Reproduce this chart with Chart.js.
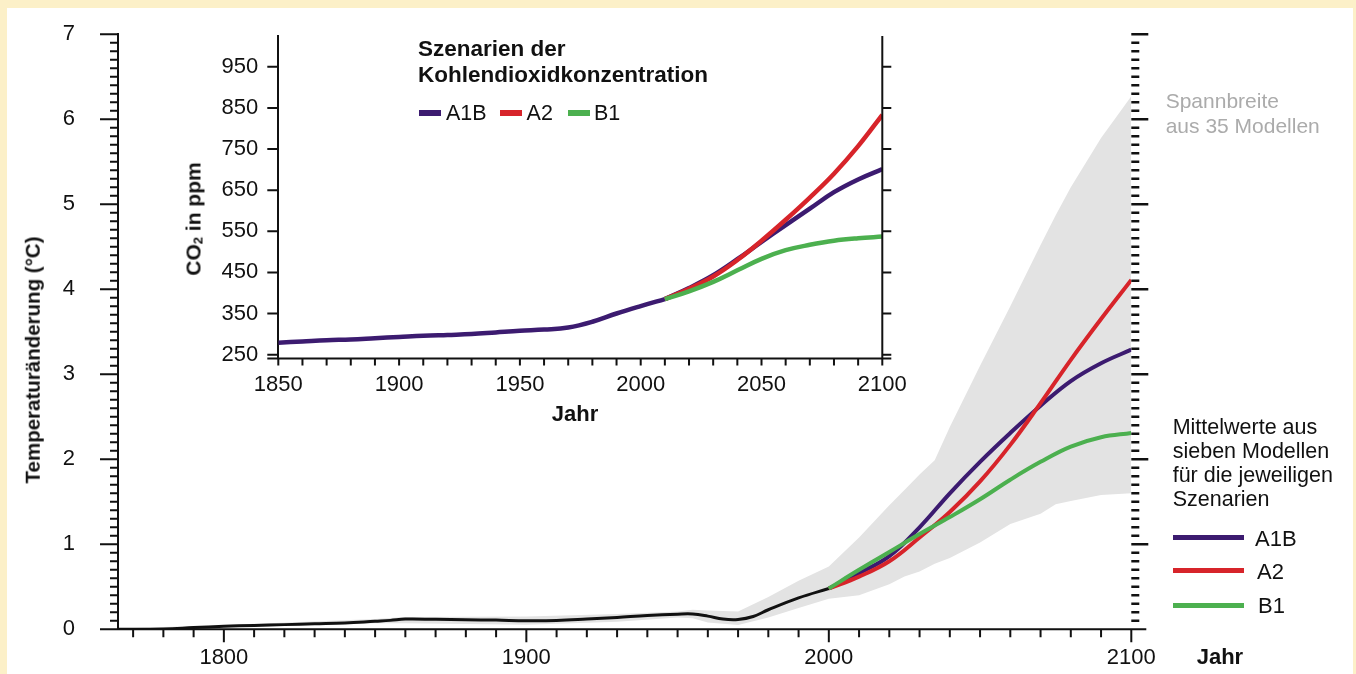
<!DOCTYPE html>
<html>
<head>
<meta charset="utf-8">
<script src="https://cdn.jsdelivr.net/npm/chart.js@4.4.1/dist/chart.umd.min.js"></script>
<style>
html, body { margin: 0; padding: 0; }
body {
  width: 1356px; height: 674px; overflow: hidden; position: relative;
  background: #fcf0c8;
  font-family: "Liberation Sans", Arial, Helvetica, sans-serif; color: #111;
}
#panel { position: absolute; left: 7px; top: 8px; width: 1346px; height: 666px; background: #fff; }
#main { position: absolute; left: 0; top: 0; }
#inset { position: absolute; left: 170px; top: 20px; }
.t { position: absolute; white-space: nowrap; line-height: 1; }
.b { font-weight: bold; }
.rot { transform: translate(-50%, -50%) rotate(-90deg); }
.ctr { transform: translate(-50%, -50%); }
.sw { position: absolute; }
sub { font-size: 0.62em; vertical-align: -0.12em; line-height: 0; }
</style>
</head>
<body>
<div id="panel"></div>
<canvas id="main" width="1356" height="674"></canvas>
<canvas id="inset" width="740" height="420"></canvas>

<div class="t b rot" style="left:33px; top:360px; font-size:20.5px;">Temperaturänderung (°C)</div>
<div class="t b rot" style="left:193px; top:219px; font-size:21px;">CO<sub>2</sub> in ppm</div>
<div class="t b ctr" style="left:575px; top:414px; font-size:22px;">Jahr</div>
<div class="t b" style="left:418px; top:35.75px; font-size:22.5px; line-height:26.5px;">Szenarien der<br>Kohlendioxidkonzentration</div>

<div class="sw" style="left:419px; top:110.3px; width:22px; height:6px; background:#3c1b70;"></div>
<div class="t" style="left:446px; top:102.5px; font-size:21.5px;">A1B</div>
<div class="sw" style="left:500px; top:110.3px; width:22px; height:6px; background:#d7242a;"></div>
<div class="t" style="left:526.6px; top:102.5px; font-size:21.5px;">A2</div>
<div class="sw" style="left:567.8px; top:110.3px; width:22px; height:6px; background:#4cb04f;"></div>
<div class="t" style="left:594px; top:102.5px; font-size:21.5px;">B1</div>

<div class="t" style="left:1165.7px; top:87.5px; font-size:21px; line-height:25px; color:#ababab;">Spannbreite<br>aus 35 Modellen</div>
<div class="t" style="left:1172.7px; top:414.6px; font-size:21.5px; line-height:24.2px;">Mittelwerte aus<br>sieben Modellen<br>für die jeweiligen<br>Szenarien</div>

<div class="sw" style="left:1172.7px; top:535.2px; width:71.6px; height:5px; background:#3c1b70;"></div>
<div class="t" style="left:1255px; top:527.8px; font-size:22px;">A1B</div>
<div class="sw" style="left:1172.7px; top:568.2px; width:71.6px; height:5px; background:#d7242a;"></div>
<div class="t" style="left:1257px; top:560.7px; font-size:22px;">A2</div>
<div class="sw" style="left:1172.7px; top:602.5px; width:71.6px; height:5px; background:#4cb04f;"></div>
<div class="t" style="left:1258px; top:595px; font-size:22px;">B1</div>

<div class="t b" style="left:1196.7px; top:645.7px; font-size:22px;">Jahr</div>

<script>
// Temperaturänderung (°C), Hauptdiagramm
const histYears = [1765, 1780, 1790, 1800, 1810, 1820, 1830, 1840, 1850, 1855, 1860, 1870, 1880, 1890, 1900, 1910, 1920, 1930, 1940, 1950, 1955, 1960, 1965, 1970, 1975, 1980, 1990, 2000];
const histTemp = [0, 0.005, 0.02, 0.035, 0.045, 0.055, 0.065, 0.075, 0.095, 0.105, 0.12, 0.117, 0.113, 0.108, 0.10, 0.103, 0.12, 0.14, 0.163, 0.178, 0.18, 0.155, 0.12, 0.115, 0.15, 0.23, 0.37, 0.48];

const scenYears = [2000, 2010, 2020, 2030, 2040, 2050, 2060, 2070, 2080, 2090, 2100];
const a1bTemp = [0.48, 0.66, 0.86, 1.20, 1.60, 1.97, 2.31, 2.63, 2.92, 3.13, 3.29];
const a2Temp = [0.48, 0.62, 0.80, 1.08, 1.38, 1.74, 2.17, 2.66, 3.17, 3.65, 4.11];
const b1Temp = [0.48, 0.70, 0.91, 1.12, 1.32, 1.53, 1.76, 1.97, 2.15, 2.26, 2.31];

// Spannbreite aus 35 Modellen
const bandYears = [1765, 1800, 1850, 1860, 1900, 1930, 1950, 1955, 1960, 1970, 1980, 1990, 2000, 2010, 2020, 2025, 2030, 2035, 2040, 2050, 2060, 2070, 2075, 2080, 2090, 2100];
const bandHigh = [0.01, 0.05, 0.12, 0.145, 0.15, 0.18, 0.21, 0.23, 0.22, 0.21, 0.38, 0.57, 0.74, 1.08, 1.46, 1.64, 1.82, 1.99, 2.38, 3.10, 3.80, 4.52, 4.87, 5.20, 5.78, 6.27];
const bandLow = [0, 0.02, 0.07, 0.07, 0.055, 0.09, 0.14, 0.13, 0.08, 0.05, 0.14, 0.25, 0.36, 0.40, 0.53, 0.62, 0.68, 0.77, 0.84, 1.02, 1.24, 1.36, 1.47, 1.51, 1.58, 1.60];

const tempTicks = [0, 1, 2, 3, 4, 5, 6, 7];
const yearTicks = [1800, 1900, 2000, 2100];

// CO2 in ppm, Nebendiagramm
const co2HistYears = [1850, 1860, 1870, 1880, 1890, 1900, 1910, 1920, 1930, 1940, 1950, 1960, 1970, 1980, 1990, 2000, 2010];
const co2Hist = [279, 282, 285, 287, 290, 293, 296, 298, 300, 304, 308, 311, 316, 330, 350, 368, 385];
const co2ScenYears = [2010, 2020, 2030, 2040, 2050, 2060, 2070, 2080, 2090, 2100];
const co2A1B = [385, 412, 443, 482, 524, 565, 605, 645, 676, 701];
const co2A2 = [385, 410, 440, 480, 527, 578, 632, 690, 757, 833];
const co2B1 = [385, 404, 427, 455, 483, 504, 517, 527, 533, 537];

const co2Ticks = [250, 350, 450, 550, 650, 750, 850, 950];
const insetYearTicks = [1850, 1900, 1950, 2000, 2050, 2100];

const C_A1B = '#3c1b70', C_A2 = '#d7242a', C_B1 = '#4cb04f', C_BAND = '#e3e3e3', C_INK = '#111';
const FONT = '"Liberation Sans", Arial, Helvetica, sans-serif';

const pts = (xs, ys) => xs.map((x, i) => ({x: x, y: ys[i]}));
const line = (label, data, color, width, order) => ({
  label: label, data: data, borderColor: color, borderWidth: width,
  pointRadius: 0, fill: false, tension: 0.4, order: order
});

const mainAxes = {
  id: 'mainAxes',
  afterDraw(chart) {
    const {ctx, chartArea, scales: {x, y}} = chart;
    const y0 = y.getPixelForValue(0);
    const xr = x.getPixelForValue(2100);
    ctx.save();
    ctx.strokeStyle = C_INK;
    ctx.lineWidth = 2;
    ctx.beginPath();
    ctx.moveTo(chartArea.left - 18, y0);
    ctx.lineTo(xr + 15, y0);
    for (let yr = 1770; yr <= 2100; yr += 10) {
      const px = x.getPixelForValue(yr);
      ctx.moveTo(px, y0);
      ctx.lineTo(px, y0 + (yr % 100 === 0 ? 13 : 8));
    }
    for (let i = 1; i <= 70; i++) {
      const py = y.getPixelForValue(i / 10);
      ctx.moveTo(chartArea.left, py);
      ctx.lineTo(chartArea.left - (i % 10 === 0 ? 18 : 8), py);
    }
    ctx.stroke();
    ctx.lineWidth = 2.6;
    ctx.beginPath();
    for (let i = 1; i <= 70; i++) {
      const py = y.getPixelForValue(i / 10);
      ctx.moveTo(xr, py);
      ctx.lineTo(xr + (i % 10 === 0 ? 17 : 8), py);
    }
    ctx.stroke();
    ctx.restore();
  }
};

const insetAxes = {
  id: 'insetAxes',
  afterDraw(chart) {
    const {ctx, chartArea: a, scales: {x, y}} = chart;
    ctx.save();
    ctx.strokeStyle = C_INK;
    ctx.lineWidth = 2;
    ctx.beginPath();
    ctx.moveTo(a.left - 11, a.bottom);
    ctx.lineTo(a.right + 9, a.bottom);
    ctx.moveTo(a.right, a.top);
    ctx.lineTo(a.right, a.bottom);
    for (let yr = 1850; yr <= 2100; yr += 10) {
      const px = x.getPixelForValue(yr);
      ctx.moveTo(px, a.bottom);
      ctx.lineTo(px, a.bottom + 7);
    }
    co2Ticks.forEach(v => {
      const py = y.getPixelForValue(v);
      ctx.moveTo(a.left - 11, py);
      ctx.lineTo(a.left, py);
      ctx.moveTo(a.right, py);
      ctx.lineTo(a.right + 9, py);
    });
    ctx.stroke();
    ctx.restore();
  }
};

const tickFont = {family: FONT, size: 22};
const plain = v => String(v);

new Chart(document.getElementById('main'), {
  type: 'line',
  data: {
    datasets: [
      {label: 'min', data: pts(bandYears, bandLow), borderWidth: 0, pointRadius: 0, fill: false, order: 10},
      {label: 'Spannbreite', data: pts(bandYears, bandHigh), borderWidth: 0, pointRadius: 0,
        backgroundColor: C_BAND, fill: '-1', order: 9},
      line('Beobachtung', pts(histYears, histTemp), C_INK, 3, 5),
      line('A1B', pts(scenYears, a1bTemp), C_A1B, 4, 3),
      line('A2', pts(scenYears, a2Temp), C_A2, 4, 2),
      line('B1', pts(scenYears, b1Temp), C_B1, 4, 1)
    ]
  },
  options: {
    responsive: false,
    animation: false,
    layout: {padding: {left: 0, right: 224.7, top: 34.3, bottom: 0}},
    plugins: {legend: {display: false}, tooltip: {enabled: false}},
    scales: {
      x: {
        type: 'linear', min: 1765, max: 2100,
        afterBuildTicks: s => { s.ticks = yearTicks.map(v => ({value: v})); },
        afterFit: s => { s.height = 44.7; s.paddingLeft = 0; s.paddingRight = 0; },
        grid: {display: false, drawTicks: false},
        border: {display: false},
        ticks: {font: tickFont, color: C_INK, padding: 15, maxRotation: 0, autoSkip: false, callback: plain}
      },
      y: {
        min: 0, max: 7,
        afterBuildTicks: s => { s.ticks = tempTicks.map(v => ({value: v})); },
        afterFit: s => { s.width = 118; s.paddingTop = 0; s.paddingBottom = 0; },
        grid: {display: false, drawTicks: false},
        border: {display: true, color: C_INK, width: 2},
        ticks: {font: tickFont, color: C_INK, padding: 43, autoSkip: false, callback: plain}
      }
    }
  },
  plugins: [mainAxes]
});

new Chart(document.getElementById('inset'), {
  type: 'line',
  data: {
    datasets: [
      line('CO2 bisher', pts(co2HistYears, co2Hist), C_A1B, 4.5, 4),
      line('A1B', pts(co2ScenYears, co2A1B), C_A1B, 4.5, 3),
      line('A2', pts(co2ScenYears, co2A2), C_A2, 4.5, 2),
      line('B1', pts(co2ScenYears, co2B1), C_B1, 4.5, 1)
    ]
  },
  options: {
    responsive: false,
    animation: false,
    layout: {padding: {left: 0, right: 27.7, top: 16, bottom: 0}},
    plugins: {legend: {display: false}, tooltip: {enabled: false}},
    scales: {
      x: {
        type: 'linear', min: 1850, max: 2100,
        afterBuildTicks: s => { s.ticks = insetYearTicks.map(v => ({value: v})); },
        afterFit: s => { s.height = 81.5; s.paddingLeft = 0; s.paddingRight = 0; },
        grid: {display: false, drawTicks: false},
        border: {display: false},
        ticks: {font: tickFont, color: C_INK, padding: 13, maxRotation: 0, autoSkip: false, callback: plain}
      },
      y: {
        min: 240.6, max: 1024.8,
        afterBuildTicks: s => { s.ticks = co2Ticks.map(v => ({value: v})); },
        afterFit: s => { s.width = 108.3; s.paddingTop = 0; s.paddingBottom = 0; },
        grid: {display: false, drawTicks: false},
        border: {display: true, color: C_INK, width: 2},
        ticks: {font: tickFont, color: C_INK, padding: 20, autoSkip: false, callback: plain}
      }
    }
  },
  plugins: [insetAxes]
});
</script>
</body>
</html>
